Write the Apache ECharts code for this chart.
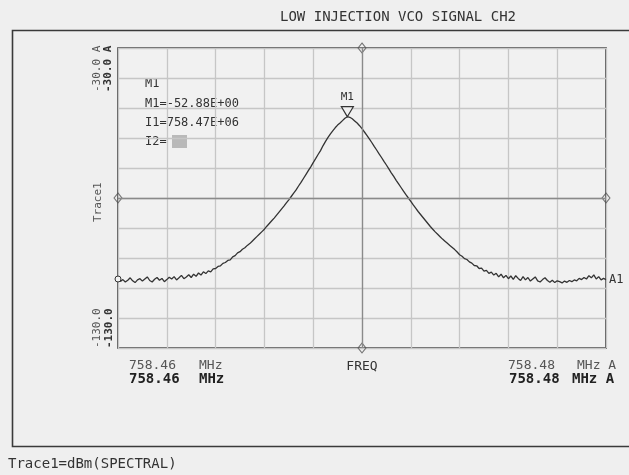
<!DOCTYPE html>
<html>
<head>
<meta charset="utf-8">
<script src="https://cdn.jsdelivr.net/npm/echarts@6/dist/echarts.min.js"></script>
<style>
html,body{margin:0;padding:0;background:#efefef;}
#chart{width:629px;height:475px;}
</style>
</head>
<body>
<div id="chart"></div>
<script>
// ---- data ----
const chartTitle = 'LOW INJECTION VCO SIGNAL CH2';
const sweepStartMHz = '758.46';
const sweepStopMHz = '758.48';
const spanKHz = 20;          // 758.46 .. 758.48 MHz
const refLevel = -30;        // top of screen, dBm
const bottomLevel = -130;    // bottom of screen, dBm
const yTickLabels = ['-30.0 A', '-130.0'];
const markerText = ['M1', 'M1=-52.88E+00', 'I1=758.47E+06', 'I2='];
const markerPeak = { kHz: 9.4, dBm: -52.88 };
// Trace1 amplitude (dBm), 201 sweep points across the span
const trace1dBm = [
 -107.0,-107.8,-107.2,-108.0,-107.4,-106.6,-107.6,-108.2,-107.3,-106.9,
 -107.7,-107.0,-106.3,-107.5,-108.0,-107.1,-106.5,-107.4,-106.8,-107.9,
 -107.2,-106.4,-107.0,-106.2,-107.3,-106.6,-105.8,-106.9,-106.3,-105.6,
 -106.5,-105.4,-106.1,-105.0,-105.7,-104.6,-105.2,-104.3,-104.6,-103.6,
 -103.5,-102.8,-102.6,-101.8,-101.5,-100.8,-100.6,-99.6,-99.2,-98.3,
 -97.9,-97.1,-96.6,-95.8,-95.2,-94.4,-93.6,-92.8,-92.0,-91.2,
 -90.4,-89.4,-88.5,-87.6,-86.7,-85.7,-84.7,-83.7,-82.7,-81.6,
 -80.6,-79.5,-78.4,-77.3,-76.0,-74.8,-73.5,-72.2,-70.9,-69.6,
 -68.2,-66.9,-65.5,-64.2,-62.6,-61.2,-59.9,-58.7,-57.6,-56.6,
 -55.7,-55.0,-54.2,-53.4,-52.9,-53.1,-53.6,-54.3,-55.0,-55.9,
 -56.9,-58.0,-59.1,-60.3,-61.5,-62.8,-64.0,-65.3,-66.5,-67.8,
 -69.0,-70.3,-71.6,-72.8,-74.1,-75.3,-76.5,-77.7,-78.9,-80.0,
 -81.1,-82.3,-83.4,-84.5,-85.5,-86.5,-87.5,-88.5,-89.5,-90.4,
 -91.3,-92.1,-92.9,-93.7,-94.4,-95.1,-95.8,-96.5,-97.2,-98.0,
 -98.9,-99.4,-100.2,-100.5,-101.3,-101.7,-102.5,-102.6,-103.5,-103.4,
 -104.4,-104.1,-105.1,-104.7,-105.7,-105.1,-106.3,-105.4,-106.6,-105.8,
 -106.9,-106.0,-107.1,-105.9,-106.8,-107.5,-106.2,-107.3,-106.5,-107.7,
 -107.0,-106.3,-107.6,-108.0,-107.2,-106.6,-107.5,-108.1,-107.4,-108.2,
 -107.6,-107.9,-108.3,-107.7,-108.1,-107.5,-107.9,-107.3,-107.6,-106.8,
 -107.2,-106.5,-107.0,-105.9,-106.6,-105.6,-107.0,-106.2,-107.3,-106.8,
 -107.2
];

const MONO = '"DejaVu Sans Mono", "Liberation Mono", monospace';
const INK = '#333333';
const n = trace1dBm.length;
const traceData = trace1dBm.map((v, i) => [i * spanKHz / (n - 1), v]);
const midX = spanKHz / 2, midY = (refLevel + bottomLevel) / 2;

const chart = echarts.init(document.getElementById('chart'), null, {renderer: 'canvas'});

function txt(x, y, s, o) {
  o = o || {};
  return {
    type: 'text', x: x, y: y, rotation: o.rot || 0, silent: true,
    style: {
      text: s, fill: o.color || INK, font: (o.weight || 'normal') + ' ' + (o.size || 13) + 'px ' + (o.family || MONO),
      textAlign: o.align || 'left', textVerticalAlign: 'middle'
    }
  };
}

const option = {
  backgroundColor: '#efefef',
  animation: false,
  grid: {
    left: 118, top: 48, width: 488, height: 300,
    show: true, borderColor: '#2e2e2e', borderWidth: 1.5, backgroundColor: '#f1f1f1'
  },
  xAxis: {
    type: 'value', min: 0, max: spanKHz, interval: 2,
    axisLine: {show: false}, axisTick: {show: false}, axisLabel: {show: false},
    splitLine: {show: true, lineStyle: {color: '#c6c6c6', width: 1.3}}
  },
  yAxis: {
    type: 'value', min: bottomLevel, max: refLevel, interval: 10,
    axisLine: {show: false}, axisTick: {show: false}, axisLabel: {show: false},
    splitLine: {show: true, lineStyle: {color: '#c6c6c6', width: 1.3}}
  },
  series: [
    {
      type: 'line', data: traceData, symbol: 'none', silent: true,
      lineStyle: {color: '#333333', width: 1.3},
      markLine: {
        silent: true, symbol: 'none', label: {show: false},
        lineStyle: {color: '#8a8a8a', width: 1.3, type: 'solid'},
        data: [{xAxis: midX}, {yAxis: midY}]
      },
      markPoint: {
        silent: true,
        data: [
          {
            coord: [markerPeak.kHz, markerPeak.dBm], symbol: 'triangle', symbolRotate: 180,
            symbolSize: [12, 10], symbolOffset: [0, -5],
            itemStyle: {color: '#f1f1f1', borderColor: INK, borderWidth: 1.2},
            label: {show: true, formatter: markerText[0], position: 'top', distance: 3,
                    color: INK, fontFamily: MONO, fontSize: 11}
          },
          {
            coord: [0, trace1dBm[0]], symbol: 'circle', symbolSize: 6,
            itemStyle: {color: '#f1f1f1', borderColor: INK, borderWidth: 1},
            label: {show: false}
          }
        ]
      },
      endLabel: {show: true, formatter: 'A1', distance: 3, color: INK, fontFamily: MONO, fontSize: 12},
      z: 3
    },
    {
      type: 'scatter', silent: true, symbol: 'diamond', symbolSize: [8, 10],
      itemStyle: {color: 'rgba(0,0,0,0)', borderColor: '#555', borderWidth: 1},
      data: [[0, midY], [spanKHz, midY], [midX, refLevel], [midX, bottomLevel]],
      z: 4
    }
  ],
  graphic: [
    {type: 'rect', silent: true, shape: {x: 12.5, y: 30.5, width: 640, height: 416},
     style: {fill: 'none', stroke: '#3a3a3a', lineWidth: 1.6}},
    txt(398, 17, chartTitle, {size: 14, align: 'center'}),
    // y-axis labels (rotated)
    txt(97, 92, yTickLabels[0], {rot: Math.PI / 2, size: 11, color: '#555'}),
    txt(108, 92, yTickLabels[0], {rot: Math.PI / 2, size: 11, weight: 'bold'}),
    txt(97, 348, yTickLabels[1], {rot: Math.PI / 2, size: 11, color: '#555'}),
    txt(109, 348, yTickLabels[1], {rot: Math.PI / 2, size: 11, weight: 'bold'}),
    txt(98, 222, 'Trace1', {rot: Math.PI / 2, size: 11, color: '#555'}),
    // marker readout
    txt(145, 84, markerText[0], {size: 12}),
    txt(145, 104, markerText[1], {size: 12}),
    txt(145, 123, markerText[2], {size: 12}),
    txt(145, 142, markerText[3], {size: 12}),
    {type: 'rect', silent: true, shape: {x: 172, y: 135, width: 15, height: 13}, style: {fill: '#b9b9b9'}},
    // x-axis labels
    txt(362, 367, 'FREQ', {size: 13, align: 'center'}),
    txt(129, 366, sweepStartMHz, {size: 13, color: '#555'}),
    txt(199, 366, 'MHz', {size: 13, color: '#555'}),
    txt(129, 379, sweepStartMHz, {size: 14, weight: 'bold', color: '#222'}),
    txt(199, 379, 'MHz', {size: 14, weight: 'bold', color: '#222'}),
    txt(508, 366, sweepStopMHz, {size: 13, color: '#555'}),
    txt(577, 366, 'MHz A', {size: 13, color: '#555'}),
    txt(509, 379, sweepStopMHz, {size: 14, weight: 'bold', color: '#222'}),
    txt(572, 379, 'MHz A', {size: 14, weight: 'bold', color: '#222'}),
    txt(8, 464, 'Trace1=dBm(SPECTRAL)', {size: 14})
  ]
};
chart.setOption(option);
</script>
</body>
</html>
